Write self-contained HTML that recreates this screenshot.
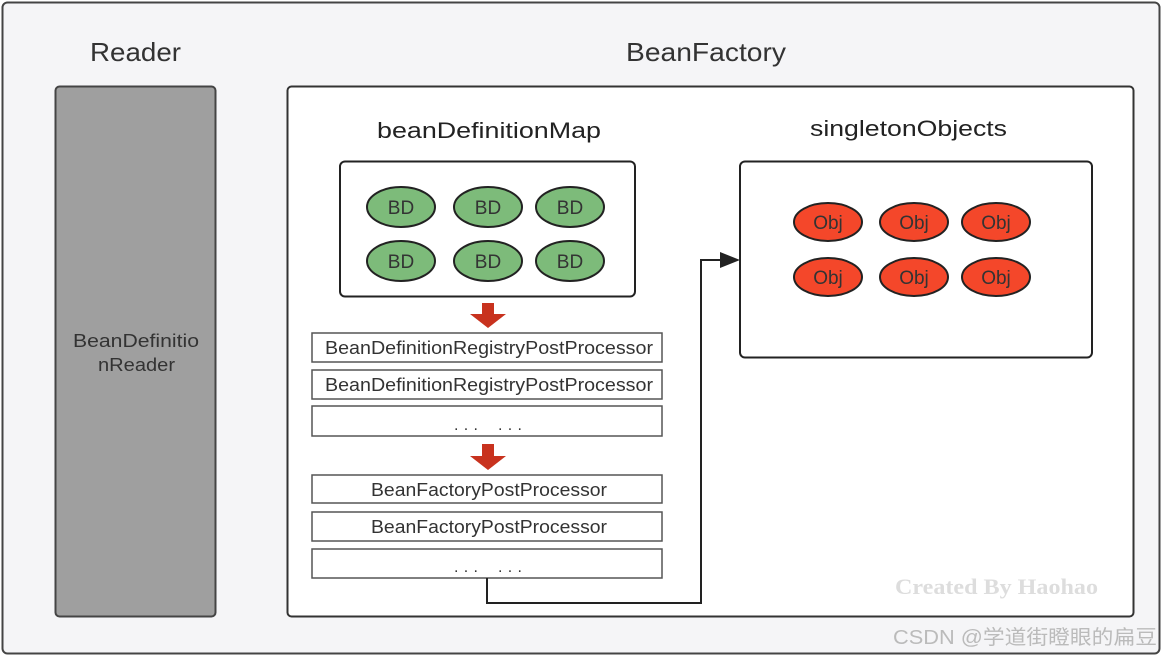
<!DOCTYPE html>
<html><head><meta charset="utf-8"><style>
html,body{margin:0;padding:0;background:#fff;}
svg{display:block;}
text{font-family:"Liberation Sans","Noto Sans CJK SC",sans-serif;}
</style></head><body>
<svg width="1163" height="657" viewBox="0 0 1163 657" xmlns="http://www.w3.org/2000/svg">
<rect x="2.5" y="2.5" width="1157" height="651" rx="5" fill="#f5f5f7" stroke="#444" stroke-width="2"/>
<text x="90" y="61" font-size="26" fill="#333" textLength="91" lengthAdjust="spacingAndGlyphs">Reader</text>
<text x="626" y="61" font-size="26" fill="#333" textLength="160" lengthAdjust="spacingAndGlyphs">BeanFactory</text>
<rect x="55.5" y="86.5" width="160" height="530" rx="4" fill="#9f9f9f" stroke="#444" stroke-width="2"/>
<text x="73" y="347" font-size="18" fill="#333" textLength="126" lengthAdjust="spacingAndGlyphs">BeanDefinitio</text>
<text x="98" y="371" font-size="18" fill="#333" textLength="77" lengthAdjust="spacingAndGlyphs">nReader</text>
<rect x="287.5" y="86.5" width="846" height="530" rx="4" fill="#fff" stroke="#333" stroke-width="2"/>
<text x="377" y="138" font-size="22" fill="#222" textLength="224" lengthAdjust="spacingAndGlyphs">beanDefinitionMap</text>
<text x="810" y="136" font-size="22" fill="#222" textLength="197" lengthAdjust="spacingAndGlyphs">singletonObjects</text>
<rect x="340" y="161.5" width="295" height="135" rx="5" fill="#fff" stroke="#222" stroke-width="2"/>
<rect x="740" y="161.5" width="352" height="196" rx="5" fill="#fff" stroke="#222" stroke-width="2"/>
<g fill="#7dbb7a" stroke="#222" stroke-width="2">
<ellipse cx="401" cy="207" rx="34" ry="20"/><ellipse cx="488" cy="207" rx="34" ry="20"/><ellipse cx="570" cy="207" rx="34" ry="20"/>
<ellipse cx="401" cy="261" rx="34" ry="20"/><ellipse cx="488" cy="261" rx="34" ry="20"/><ellipse cx="570" cy="261" rx="34" ry="20"/>
</g>
<g font-size="19" fill="#333" text-anchor="middle">
<text x="401" y="214">BD</text><text x="488" y="214">BD</text><text x="570" y="214">BD</text>
<text x="401" y="268">BD</text><text x="488" y="268">BD</text><text x="570" y="268">BD</text>
</g>
<g fill="#f4472a" stroke="#222" stroke-width="2">
<ellipse cx="828" cy="222" rx="34" ry="19"/><ellipse cx="914" cy="222" rx="34" ry="19"/><ellipse cx="996" cy="222" rx="34" ry="19"/>
<ellipse cx="828" cy="277" rx="34" ry="19"/><ellipse cx="914" cy="277" rx="34" ry="19"/><ellipse cx="996" cy="277" rx="34" ry="19"/>
</g>
<g font-size="19" fill="#333" text-anchor="middle">
<text x="828" y="229">Obj</text><text x="914" y="229">Obj</text><text x="996" y="229">Obj</text>
<text x="828" y="284">Obj</text><text x="914" y="284">Obj</text><text x="996" y="284">Obj</text>
</g>
<g fill="#c8321e">
<polygon points="482,303 494,303 494,314 506,314 488,328 470,314 482,314"/>
<polygon points="482,444 494,444 494,456 506,456 488,470 470,456 482,456"/>
</g>
<g fill="#fff" stroke="#555" stroke-width="1.5">
<rect x="312" y="333" width="350" height="29"/>
<rect x="312" y="370" width="350" height="29"/>
<rect x="312" y="406" width="350" height="30"/>
<rect x="312" y="475" width="350" height="28"/>
<rect x="312" y="512" width="350" height="29"/>
<rect x="312" y="549" width="350" height="29"/>
</g>
<g font-size="18" fill="#333">
<text x="325" y="354" textLength="328" lengthAdjust="spacingAndGlyphs">BeanDefinitionRegistryPostProcessor</text>
<text x="325" y="391" textLength="328" lengthAdjust="spacingAndGlyphs">BeanDefinitionRegistryPostProcessor</text>
<text x="371" y="496" textLength="236" lengthAdjust="spacingAndGlyphs">BeanFactoryPostProcessor</text>
<text x="371" y="533" textLength="236" lengthAdjust="spacingAndGlyphs">BeanFactoryPostProcessor</text>
</g>
<g font-size="16" fill="#333">
<text x="454" y="430" textLength="24" lengthAdjust="spacing">...</text>
<text x="498" y="430" textLength="24" lengthAdjust="spacing">...</text>
<text x="454" y="572" textLength="24" lengthAdjust="spacing">...</text>
<text x="498" y="572" textLength="24" lengthAdjust="spacing">...</text>
</g>
<polyline points="487,578 487,603 701,603 701,260 722,260" fill="none" stroke="#222" stroke-width="2"/>
<polygon points="740,260 720,252 720,268" fill="#222"/>
<text x="895" y="594" font-size="22" font-weight="bold" fill="#ddd" textLength="203" lengthAdjust="spacingAndGlyphs" style="font-family:'Liberation Serif',serif">Created By Haohao</text>
<text x="893" y="644" font-size="20" fill="#bbb" textLength="264" lengthAdjust="spacingAndGlyphs">CSDN @学道街瞪眼的扁豆</text>
</svg>
</body></html>
